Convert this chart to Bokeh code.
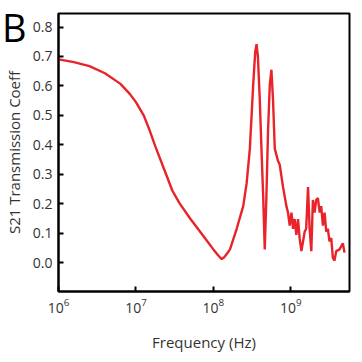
from bokeh.plotting import figure
from bokeh.models import FixedTicker, NumeralTickFormatter, Range1d, Div
from bokeh.layouts import column
from bokeh.embed import file_html
from bokeh.resources import INLINE

freq_hz = [1.00e6, 1.58e6, 2.51e6, 3.98e6, 6.31e6, 8.32e6, 1.00e7, 1.26e7, 1.48e7, 1.78e7,
           2.45e7, 2.95e7, 3.63e7, 5.01e7, 6.31e7, 7.94e7, 1.00e8, 1.15e8, 1.28e8, 1.38e8,
           1.51e8, 1.64e8, 2.00e8, 2.43e8, 2.69e8, 2.96e8, 3.27e8, 3.47e8, 3.61e8, 3.76e8,
           3.98e8, 4.18e8, 4.40e8, 4.61e8, 4.84e8, 5.09e8, 5.36e8, 5.62e8, 5.90e8, 6.21e8,
           6.52e8, 6.84e8, 7.19e8, 7.94e8, 8.77e8, 9.20e8, 9.68e8, 1.02e9, 1.07e9, 1.12e9,
           1.18e9, 1.24e9, 1.30e9, 1.37e9, 1.44e9, 1.51e9, 1.58e9, 1.67e9, 1.75e9, 1.84e9,
           1.93e9, 2.03e9, 2.13e9, 2.24e9, 2.36e9, 2.47e9, 2.60e9, 2.73e9, 2.87e9, 3.01e9,
           3.16e9, 3.33e9, 3.49e9, 3.67e9, 3.86e9, 4.26e9, 4.70e9, 4.94e9]
s21 = [0.690, 0.681, 0.667, 0.643, 0.607, 0.573, 0.545, 0.500, 0.454, 0.395,
       0.300, 0.245, 0.203, 0.150, 0.115, 0.080, 0.045, 0.025, 0.012, 0.018,
       0.032, 0.045, 0.115, 0.192, 0.270, 0.387, 0.605, 0.715, 0.742, 0.700,
       0.551, 0.387, 0.224, 0.045, 0.224, 0.452, 0.605, 0.655, 0.551, 0.387,
       0.366, 0.345, 0.333, 0.257, 0.192, 0.170, 0.126, 0.170, 0.115, 0.148,
       0.094, 0.148, 0.083, 0.039, 0.072, 0.105, 0.115, 0.257, 0.115, 0.039,
       0.213, 0.170, 0.213, 0.219, 0.170, 0.192, 0.126, 0.170, 0.105, 0.115,
       0.072, 0.083, 0.017, 0.007, 0.039, 0.045, 0.066, 0.034]

x_ticks = [1e6, 1e7, 1e8, 1e9]
y_ticks = [0.0, 0.1, 0.2, 0.3, 0.4, 0.5, 0.6, 0.7, 0.8]
panel_letter = "B"

FONT = "Open Sans"

p = figure(width=354, height=354, x_axis_type="log", output_backend="svg",
           toolbar_location=None,
           x_range=Range1d(1e6, 5.73e9), y_range=Range1d(-0.098, 0.846),
           min_border_left=58, min_border_right=5, min_border_top=13, min_border_bottom=52)

p.line(freq_hz, s21, line_color="#e8232a", line_width=2.4)

p.grid.visible = False
p.outline_line_color = "black"
p.outline_line_width = 2
p.outline_line_alpha = 1

for ax in (p.xaxis[0], p.yaxis[0]):
    ax.axis_line_width = 2
    ax.axis_line_color = "black"
    ax.major_tick_in = 5
    ax.major_tick_out = 0
    ax.major_tick_line_width = 2
    ax.major_tick_line_color = "black"
    ax.minor_tick_line_color = None
    ax.major_label_text_font = FONT
    ax.major_label_text_font_size = "14px"
    ax.major_label_text_color = "#333333"
    ax.axis_label_text_font = FONT
    ax.axis_label_text_font_size = "15px"
    ax.axis_label_text_font_style = "normal"
    ax.axis_label_text_color = "#333333"

p.xaxis.ticker = FixedTicker(ticks=x_ticks)
p.yaxis.ticker = FixedTicker(ticks=y_ticks)
p.yaxis.formatter = NumeralTickFormatter(format="0.0")
p.xaxis.axis_label = "Frequency (Hz)"
p.yaxis.axis_label = "S21 Transmission Coeff"
p.xaxis.major_label_standoff = 6
p.yaxis.major_label_standoff = 6
p.xaxis.axis_label_standoff = 16
p.yaxis.axis_label_standoff = 6

letter = Div(text=panel_letter, width=30, height=50,
             styles={"position": "absolute", "left": "-3px", "top": "-4px",
                     "font-family": "Open Sans", "font-size": "38px",
                     "color": "black", "line-height": "normal", "z-index": "10"})

layout = column(p, letter, spacing=0)

open("out.html", "w").write(file_html(layout, INLINE))
